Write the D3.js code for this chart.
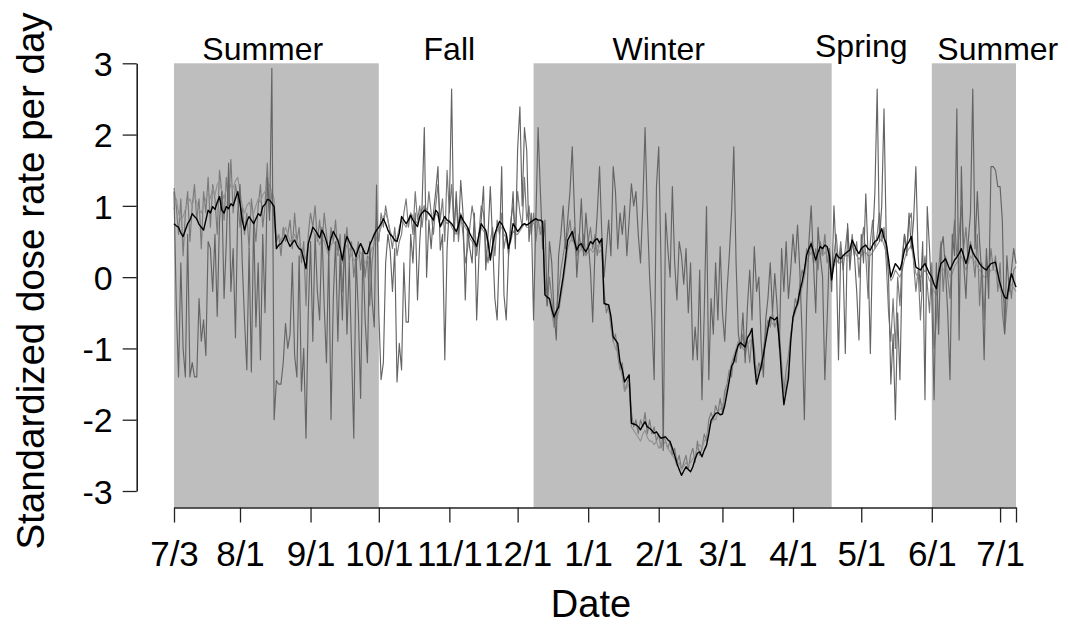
<!DOCTYPE html>
<html><head><meta charset="utf-8">
<script src="https://cdn.jsdelivr.net/npm/d3@7"></script>
<style>body{margin:0;background:#fff;} svg{display:block;}</style>
</head><body><svg id="c" width="1068" height="627"></svg>
<script>
// ---- data ----
const startDate = "2013-07-03";
const endDate = "2014-07-08";
const tickDates = ["2013-07-03","2013-08-01","2013-09-01","2013-10-01","2013-11-01","2013-12-01","2014-01-01","2014-02-01","2014-03-01","2014-04-01","2014-05-01","2014-06-01","2014-07-01","2014-07-08"];
const tickLabels = ["7/3","8/1","9/1","10/1","11/1","12/1","1/1","2/1","3/1","4/1","5/1","6/1","7/1",""];
const yTicks = [-3,-2,-1,0,1,2,3];
const shadeStarts = ["2013-07-03","2013-12-08","2014-06-01"];
const shadeEnds = ["2013-10-01","2014-04-18","2014-07-08"];
const seasonNames = ["Summer","Fall","Winter","Spring","Summer"];
const seasonLabelDates = ["2013-08-11","2013-11-01","2014-02-01","2014-05-01","2014-06-30"];
const xTitle = "Date";
const yTitle = "Standardized dose rate per day";

// daily standardized values, one per day from startDate
const blackSeries = [
0.75,0.72,0.70,0.62,0.57,0.66,0.75,0.80,0.89,0.85,
0.82,0.74,0.70,0.66,0.80,0.94,0.90,0.99,0.95,1.05,
1.13,0.94,0.90,0.99,0.96,1.03,1.00,1.10,1.20,1.03,
0.80,0.66,0.78,0.85,0.80,0.75,0.82,0.89,0.86,0.99,
1.02,1.09,1.08,1.04,0.99,0.40,0.45,0.47,0.52,0.59,
0.50,0.43,0.48,0.52,0.45,0.40,0.38,0.25,0.12,0.47,
0.58,0.70,0.66,0.61,0.55,0.66,0.60,0.50,0.38,0.55,
0.64,0.58,0.52,0.40,0.24,0.45,0.57,0.50,0.43,0.38,
0.29,0.40,0.47,0.40,0.33,0.33,0.45,0.52,0.60,0.66,
0.70,0.75,0.82,0.75,0.66,0.60,0.57,0.52,0.50,0.62,
0.85,0.80,0.75,0.80,0.87,0.80,0.75,0.71,0.85,0.90,
0.94,0.92,0.89,0.85,0.80,0.94,0.90,0.71,0.78,0.85,
0.80,0.78,0.75,0.70,0.64,0.72,0.87,0.80,0.75,0.70,
0.61,0.55,0.50,0.43,0.60,0.75,0.70,0.66,0.50,0.24,
0.45,0.61,0.70,0.78,0.75,0.68,0.61,0.40,0.55,0.75,
0.70,0.64,0.68,0.73,0.75,0.73,0.75,0.78,0.80,0.82,
0.80,0.80,0.78,-0.25,-0.28,-0.30,-0.45,-0.56,-0.48,-0.42,
-0.20,0.00,0.25,0.52,0.58,0.64,0.50,0.38,0.45,0.47,
0.40,0.36,0.42,0.50,0.47,0.52,0.54,0.48,0.54,-0.37,
-0.38,-0.39,-0.55,-0.84,-0.88,-0.93,-1.19,-1.30,-1.47,-1.42,
-1.37,-2.05,-2.06,-2.07,-2.10,-2.14,-2.08,-2.03,-2.10,-2.12,
-2.15,-2.19,-2.17,-2.22,-2.26,-2.25,-2.24,-2.28,-2.31,-2.40,
-2.50,-2.61,-2.70,-2.78,-2.72,-2.66,-2.70,-2.73,-2.66,-2.55,
-2.47,-2.45,-2.52,-2.43,-2.36,-2.20,-2.01,-1.96,-1.91,-1.90,
-1.93,-1.92,-1.80,-1.63,-1.45,-1.25,-1.19,-1.05,-0.95,-0.92,
-0.95,-0.98,-0.85,-0.80,-0.72,-1.20,-1.50,-1.37,-1.25,-1.09,
-0.90,-0.72,-0.56,-0.58,-0.60,-0.56,-0.90,-1.40,-1.79,-1.60,
-1.42,-0.90,-0.56,-0.45,-0.37,-0.20,-0.07,0.10,0.31,0.40,
0.47,0.35,0.24,0.35,0.43,0.40,0.45,0.43,0.30,-0.04,
0.20,0.33,0.28,0.26,0.30,0.33,0.36,0.38,0.52,0.45,
0.38,0.33,0.40,0.43,0.45,0.40,0.38,0.45,0.50,0.52,
0.60,0.68,0.55,0.47,0.25,0.00,0.10,0.19,0.15,0.10,
0.22,0.38,0.45,0.50,0.57,0.35,0.14,0.12,0.10,0.15,
0.19,0.12,0.05,0.00,-0.10,-0.16,0.05,0.19,0.22,0.26,
0.18,0.10,0.17,0.24,0.28,0.33,0.40,0.30,0.19,0.30,
0.45,0.35,0.29,0.25,0.19,0.15,0.12,0.10,0.15,0.19,
0.20,0.21,0.05,-0.09,-0.20,-0.28,-0.30,-0.10,0.05,-0.05,
-0.14];

const graySeries1 = [
1.2,-0.4,-1.4,0.2,-1.0,-1.4,0.6,-1.4,-1.2,-1.4,
-1.4,-0.3,-0.9,-0.6,-1.1,0.5,0.4,-0.2,0.6,-0.55,
0.8,1.2,-0.3,0.5,1.6,-0.2,0.4,-0.85,0.9,1.3,
0.2,-0.6,-1.3,0.4,-1.33,0.8,-0.7,0.2,-1.16,0.6,
-0.5,1.4,0.8,2.93,-2.0,-1.45,-1.5,-1.5,-1.2,-0.65,
-1.0,-0.8,0.2,-1.1,-1.4,0.3,-1.6,-1.0,-2.26,-0.5,
0.5,-0.9,0.6,-0.2,-0.6,0.7,-0.4,-1.2,0.4,-2.0,
-0.3,0.5,-0.9,0.3,-0.6,0.6,-0.8,0.2,-1.0,-2.26,
0.3,-0.5,-1.7,0.4,-0.6,-1.2,0.5,-0.3,-0.7,1.29,
-0.5,-1.44,-1.2,0.2,0.6,0.38,-0.2,0.4,-1.47,-0.93,
-1.3,0.2,-0.63,-0.63,0.6,0.2,0.9,-0.32,0.5,1.0,
2.1,0.0,0.8,0.4,0.9,1.2,1.55,0.38,0.6,-1.16,
0.4,1.0,2.64,0.5,1.2,0.6,1.36,0.9,-0.32,0.7,
0.4,0.2,0.9,-0.6,0.3,0.8,1.27,0.1,0.6,1.27,
0.5,-0.3,-0.6,0.4,1.55,-0.25,-0.6,0.3,0.7,1.2,
0.4,1.8,2.39,1.0,2.1,1.78,0.5,0.9,-0.6,0.8,
2.1,1.2,0.4,0.8,-0.4,0.5,0.2,-0.5,-0.88,0.3,
0.6,1.0,0.4,0.8,1.2,1.83,0.9,0.0,0.5,1.1,
0.3,0.9,0.5,0.1,-0.63,0.4,0.9,1.55,0.6,0.0,
0.4,0.8,0.3,1.55,1.2,0.4,0.9,0.6,1.0,0.3,
0.8,1.31,1.0,1.2,0.6,0.2,1.0,2.1,0.9,0.0,
-0.6,-1.44,1.27,1.83,0.2,-2.43,0.9,0.4,0.0,1.27,
0.2,-0.32,0.5,0.3,-0.1,0.4,-0.5,0.2,-1.16,-0.7,
-1.16,0.1,-1.72,-0.5,0.99,-1.44,-0.3,-0.8,0.2,-0.6,
0.43,-0.5,-0.9,-0.2,0.3,0.9,1.83,0.2,-0.8,-1.0,
-0.5,-1.2,-0.4,0.1,-0.6,0.43,-0.2,0.0,-0.9,-1.4,
-0.6,-0.3,0.2,-0.5,0.05,-0.4,-1.0,0.4,-0.2,0.5,
-0.3,0.1,0.6,0.2,0.73,0.1,-0.8,-2.0,-0.4,0.5,
1.0,0.2,-0.5,0.7,0.3,0.0,-1.44,-0.6,0.4,-0.2,
1.0,0.3,-1.16,0.4,0.2,-1.07,0.75,0.1,0.5,0.3,
-0.2,-0.88,0.6,0.2,1.17,0.3,-1.07,0.5,1.2,2.64,
0.5,1.0,2.36,0.5,0.0,-1.5,-0.8,-2.0,-0.5,-1.44,
0.2,0.6,0.3,0.9,0.4,0.8,1.55,0.3,-0.2,0.5,
-1.72,0.99,0.4,-0.3,-1.72,0.2,-0.8,0.4,0.57,0.1,
-0.5,-1.44,0.6,0.3,2.36,-0.88,1.55,0.2,-0.3,0.5,
0.9,2.64,0.4,1.2,0.5,0.0,-1.16,0.4,-0.3,1.55,
1.55,1.5,1.27,1.27,0.8,-0.79,0.3,-0.2,0.1,0.4,
0.19];

const graySeries2 = [
1.25,1.0,0.6,1.1,0.3,0.9,1.2,0.5,1.0,1.3,
0.8,1.1,0.4,1.2,0.9,1.4,0.7,1.3,1.1,0.6,
1.5,1.2,0.8,1.4,1.0,1.65,0.9,1.3,1.1,0.7,
1.0,0.6,0.9,0.4,1.1,0.8,0.5,1.0,1.3,0.7,
1.0,1.6,0.9,1.2,0.8,0.5,0.6,0.3,0.7,0.5,
0.6,0.8,0.4,0.9,0.5,0.7,0.2,0.5,-0.4,0.6,
0.9,0.7,1.0,0.5,0.8,0.4,0.9,0.6,0.3,0.7,
0.5,0.8,0.3,0.6,-0.2,0.4,0.7,0.2,0.5,0.0,
0.3,0.5,0.1,0.4,0.0,0.3,-0.4,0.2,0.5,0.8,
0.5,0.9,0.7,1.0,0.8,0.6,0.4,0.7,0.3,0.5,
0.6,0.9,1.1,0.7,0.9,0.6,1.2,0.8,1.0,0.7,
1.0,0.8,1.2,0.9,0.6,1.0,1.3,0.8,1.1,0.5,
1.5,0.9,1.3,0.7,1.1,0.5,0.9,0.6,0.2,0.4,
0.7,1.0,0.8,0.3,0.6,1.0,0.9,0.4,0.2,0.5,
0.7,0.3,0.8,0.6,0.9,0.4,0.6,0.3,0.8,1.0,
0.6,1.2,0.9,0.7,1.4,0.8,1.0,0.6,0.9,0.5,
0.8,0.6,0.7,-0.1,-0.4,0.0,-0.3,-0.7,-0.5,-0.2,
0.1,0.3,0.5,0.6,0.8,0.5,0.7,0.3,0.6,0.4,
0.6,0.3,0.5,0.7,0.4,0.6,0.3,0.5,0.4,-0.2,
-0.5,-0.4,-0.7,-0.9,-0.8,-1.1,-1.3,-1.2,-1.6,-1.5,
-1.4,-1.9,-2.1,-2.0,-2.2,-2.0,-2.1,-1.9,-2.2,-2.0,
-2.2,-2.1,-2.3,-2.2,-2.4,-2.2,-2.3,-2.4,-2.3,-2.5,
-2.4,-2.6,-2.5,-2.7,-2.6,-2.5,-2.7,-2.5,-2.4,-2.6,
-2.3,-2.5,-2.4,-2.2,-2.3,-2.0,-1.9,-2.0,-1.8,-1.9,
-1.7,-1.9,-1.6,-1.5,-1.3,-1.4,-1.1,-1.2,-0.9,-1.0,
-0.8,-1.1,-0.9,-1.2,-0.8,-1.0,-1.4,-1.2,-1.3,-1.0,
-0.8,-0.6,-0.7,-0.5,-0.7,-0.6,-0.8,-1.2,-1.6,-1.3,
-1.1,-0.8,-0.6,-0.3,-0.4,-0.1,0.1,0.0,0.4,0.3,
0.5,0.2,0.4,0.1,0.5,0.3,0.6,0.2,0.4,0.0,
0.3,0.6,0.2,0.5,0.1,0.4,0.7,0.2,0.6,0.3,
0.5,0.0,0.4,0.7,0.3,-0.3,0.5,0.8,0.4,0.6,
0.9,0.5,0.7,0.2,-0.5,-0.9,-0.3,-1.0,0.0,-0.4,
0.3,0.6,0.4,0.8,0.9,0.2,-0.2,0.1,-0.6,0.0,
0.3,-0.1,-0.5,0.2,-1.0,-0.6,0.1,0.5,-0.2,0.3,
0.0,-0.3,0.4,0.8,0.3,0.6,1.0,0.4,0.7,0.2,
0.5,0.3,0.0,0.6,-0.4,0.2,-0.6,0.3,0.0,0.4,
0.1,0.3,-0.2,0.2,-0.5,-0.8,-0.4,0.0,-0.3,0.1,
0.15];

const graySeries3 = [
0.95,1.1,0.9,0.8,0.85,0.95,1.05,1.1,1.0,1.15,
1.05,0.95,0.9,1.0,1.1,1.2,1.1,1.25,1.15,1.3,
1.35,1.2,1.1,1.25,1.2,1.3,1.25,1.35,1.4,1.2,
1.0,0.9,1.0,1.05,0.95,0.9,1.0,1.1,1.05,1.15,
1.2,1.25,1.3,1.2,1.1,0.55,0.6,0.5,0.6,0.7,
0.6,0.5,0.55,0.6,0.5,0.45,0.4,0.35,0.25,0.5,
0.6,0.65,0.6,0.55,0.45,0.55,0.5,0.4,0.3,0.45,
0.5,0.45,0.35,0.3,0.2,0.35,0.45,0.4,0.3,0.25,
0.2,0.3,0.35,0.25,0.2,0.25,0.3,0.4,0.45,0.55,
0.6,0.7,0.85,0.9,0.8,0.65,0.55,0.5,0.55,0.7,
0.8,0.75,0.7,0.8,0.9,0.85,0.8,0.75,0.9,0.95,
1.0,0.95,0.9,0.85,0.8,0.9,0.85,0.7,0.75,0.8,
0.75,0.8,0.7,0.65,0.6,0.7,0.8,0.75,0.7,0.65,
0.55,0.5,0.45,0.4,0.55,0.7,0.65,0.6,0.45,0.3,
0.4,0.55,0.65,0.7,0.7,0.6,0.55,0.4,0.5,0.65,
0.6,0.6,0.65,0.7,0.75,0.7,0.7,0.75,0.75,0.8,
0.75,0.7,0.6,-0.1,-0.2,-0.35,-0.5,-0.7,-0.6,-0.5,
-0.3,-0.1,0.15,0.4,0.5,0.55,0.45,0.3,0.35,0.4,
0.35,0.3,0.35,0.4,0.35,0.4,0.45,0.35,0.4,-0.3,
-0.4,-0.45,-0.65,-0.9,-1.0,-1.05,-1.25,-1.4,-1.6,-1.55,
-1.5,-2.1,-2.15,-2.2,-2.25,-2.3,-2.2,-2.15,-2.25,-2.3,
-2.3,-2.35,-2.3,-2.4,-2.35,-2.35,-2.3,-2.4,-2.45,-2.5,
-2.55,-2.65,-2.6,-2.7,-2.65,-2.6,-2.65,-2.6,-2.55,-2.5,
-2.4,-2.35,-2.4,-2.3,-2.25,-2.1,-2.05,-2.0,-2.0,-1.9,
-1.85,-1.8,-1.7,-1.55,-1.4,-1.2,-1.1,-1.0,-0.9,-0.95,
-1.0,-1.05,-0.95,-0.9,-0.85,-1.1,-1.35,-1.3,-1.2,-1.05,
-0.85,-0.7,-0.6,-0.65,-0.7,-0.65,-0.85,-1.3,-1.65,-1.5,
-1.3,-0.85,-0.6,-0.5,-0.4,-0.3,-0.15,0.0,0.2,0.3,
0.35,0.25,0.2,0.3,0.35,0.3,0.35,0.3,0.2,0.0,
0.15,0.25,0.2,0.2,0.25,0.3,0.3,0.3,0.45,0.4,
0.3,0.25,0.3,0.35,0.35,0.3,0.3,0.35,0.4,0.45,
0.5,0.55,0.45,0.35,0.15,-0.05,0.0,0.1,0.05,0.0,
0.1,0.25,0.35,0.4,0.45,0.25,0.05,0.0,0.0,0.05,
0.1,0.05,-0.05,-0.1,-0.2,-0.25,-0.05,0.1,0.1,0.15,
0.1,0.0,0.05,0.15,0.2,0.25,0.3,0.2,0.1,0.2,
0.3,0.25,0.2,0.15,0.1,0.05,0.0,0.0,0.05,0.1,
0.1,0.1,-0.05,-0.15,-0.25,-0.35,-0.4,-0.2,-0.1,-0.15,
-0.2];

// ---- drawing ----
const FONT = "'Liberation Sans', Arial, Helvetica, sans-serif";
const svg = d3.select("#c").style("font-family", FONT);
const parse = d3.utcParse("%Y-%m-%d");
const t0 = parse(startDate);
const x = d3.scaleUtc().domain([t0, parse(endDate)]).range([174, 1016]);
const y = d3.scaleLinear().domain([-3, 3]).range([491, 63.3]);
const axisY = 507.5;

// shaded seasons
svg.append("g").selectAll("rect").data(shadeStarts).join("rect")
  .attr("x", (s) => x(parse(s)))
  .attr("y", y(3))
  .attr("width", (s, i) => x(parse(shadeEnds[i])) - x(parse(s)))
  .attr("height", axisY - y(3))
  .attr("fill", "#bebebe");

// season labels
svg.append("g").selectAll("text").data(seasonNames).join("text")
  .attr("x", (s, i) => x(parse(seasonLabelDates[i])))
  .attr("y", (s, i) => s === "Spring" ? 57 : 60)
  .attr("text-anchor", "middle")
  .attr("font-size", 32)
  .attr("fill", "#000")
  .text((s) => s);

// series
const line = d3.line().x((v, i) => x(d3.utcDay.offset(t0, i))).y((v) => y(v));
const series = [
  {values: graySeries2, color: "#7a7a7a", w: 1.15},
  {values: graySeries3, color: "#929292", w: 1.15},
  {values: graySeries1, color: "#646464", w: 1.15},
  {values: blackSeries, color: "#000000", w: 1.4}
];
svg.append("g").selectAll("path").data(series).join("path")
  .attr("d", (s) => line(s.values))
  .attr("fill", "none")
  .attr("stroke", (s) => s.color)
  .attr("stroke-width", (s) => s.w)
  .attr("stroke-linejoin", "round");

// x axis
const gx = svg.append("g").attr("transform", `translate(0,${axisY})`)
  .call(d3.axisBottom(x).tickValues(tickDates.map(parse))
    .tickFormat((d, i) => tickLabels[i]).tickSize(15).tickSizeOuter(0));
gx.attr("font-family", FONT).attr("font-size", 35);
gx.select(".domain").attr("stroke", "#222").attr("stroke-width", 1.6);
gx.selectAll(".tick line").attr("stroke", "#222").attr("stroke-width", 1.3);
gx.selectAll(".tick text").attr("fill", "#000").attr("dy", null).attr("y", 58);

// y axis
const gy = svg.append("g").attr("transform", "translate(136.7,0)")
  .call(d3.axisLeft(y).tickValues(yTicks).tickFormat((d) => String(d)).tickSize(14).tickSizeOuter(0).tickPadding(10));
gy.attr("font-family", FONT).attr("font-size", 34);
gy.select(".domain").attr("stroke", "#222").attr("stroke-width", 1.6);
gy.selectAll(".tick line").attr("stroke", "#222").attr("stroke-width", 1.3);
gy.selectAll(".tick text").attr("fill", "#000").attr("dy", "0.36em");

// titles
svg.append("text").attr("x", 591).attr("y", 617).attr("text-anchor", "middle")
  .attr("font-size", 38).attr("fill", "#000").text(xTitle);
svg.append("text").attr("transform", "translate(44,281) rotate(-90)").attr("text-anchor", "middle")
  .attr("font-size", 38.5).attr("fill", "#000").text(yTitle);
</script></body></html>
